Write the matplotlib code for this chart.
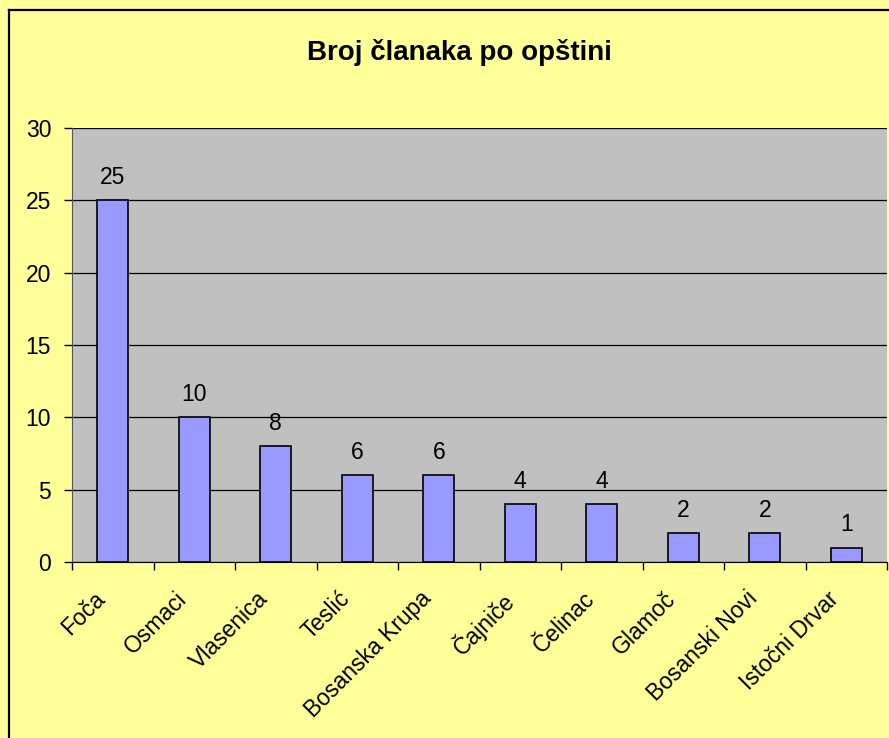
import matplotlib.pyplot as plt
import matplotlib.transforms as mtransforms
from matplotlib.lines import Line2D
import numpy as np

plt.rcParams['font.family'] = ['Liberation Sans', 'DejaVu Sans']

opstine = ["Foča", "Osmaci", "Vlasenica", "Teslić", "Bosanska Krupa",
           "Čajniče", "Čelinac", "Glamoč", "Bosanski Novi", "Istočni Drvar"]
clanci = [25, 10, 8, 6, 6, 4, 4, 2, 2, 1]

fig = plt.figure(figsize=(8.89, 7.38), dpi=100)
fig.patch.set_facecolor("#FFFF99")

# chart border (Excel-like, right/bottom cut off)
fig.add_artist(Line2D([9 / 889, 9 / 889], [0, 1 - 10 / 738], transform=fig.transFigure,
                      color="black", lw=1.6))
fig.add_artist(Line2D([9 / 889, 1], [1 - 10 / 738, 1 - 10 / 738], transform=fig.transFigure,
                      color="black", lw=1.6))

ax = fig.add_axes([72 / 889, 1 - 562 / 738, 815 / 889, 434 / 738])
ax.set_facecolor("#C0C0C0")

x = np.arange(len(opstine))
bars = ax.bar(x, clanci, width=0.38, color="#9999FF", edgecolor="black", linewidth=1.2, zorder=3)
ax.bar_label(bars, labels=[str(v) for v in clanci], padding=8, fontsize=16.5)

ax.set_xlim(-0.5, len(opstine) - 0.5)
ax.set_ylim(0, 30)
ax.set_yticks(range(0, 31, 5))
ax.yaxis.grid(True, color="black", lw=0.9, zorder=1)
ax.tick_params(axis="y", direction="out", length=6, width=1, labelsize=16.5, pad=9)

ax.set_xticks(np.arange(-0.5, len(opstine) + 0.5, 1))
ax.set_xticklabels([])
ax.tick_params(axis="x", which="major", direction="out", length=6, width=1)
ax.set_xticks(x, minor=True)
ax.set_xticklabels(opstine, minor=True, rotation=45, ha="right", va="top",
                   rotation_mode="anchor", fontsize=16.5)
ax.tick_params(axis="x", which="minor", length=0, pad=18)
shift = mtransforms.ScaledTranslation(-19 / 100, 0, fig.dpi_scale_trans)
for lbl in ax.get_xticklabels(minor=True):
    lbl.set_transform(lbl.get_transform() + shift)

for side in ["top", "right"]:
    ax.spines[side].set_visible(False)
ax.spines["left"].set_color("#555555")
ax.spines["bottom"].set_color("black")

fig.text(459 / 889, 1 - 52 / 738, "Broj članaka po opštini", ha="center", va="center",
         fontsize=20, fontweight="bold")

fig.savefig("out.png", dpi=100, facecolor=fig.get_facecolor())
